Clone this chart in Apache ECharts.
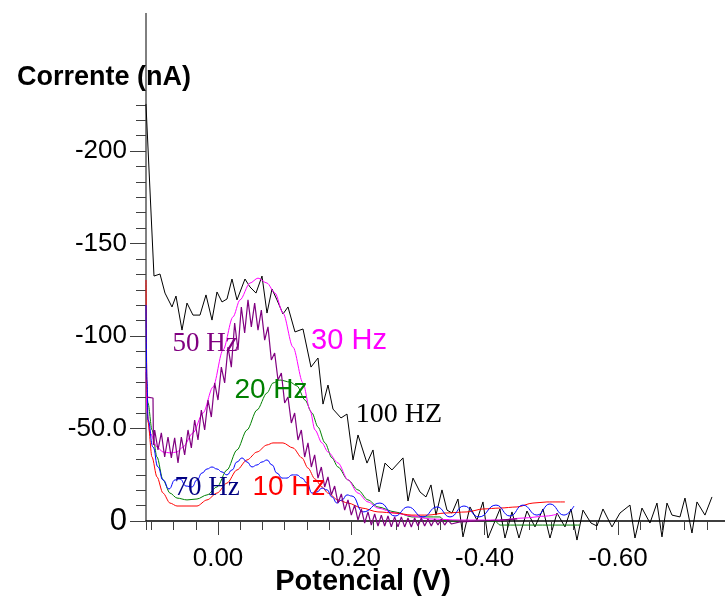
<!DOCTYPE html>
<html>
<head>
<meta charset="utf-8">
<script src="https://cdn.jsdelivr.net/npm/echarts@6/dist/echarts.min.js"></script>
<style>
html, body { margin: 0; padding: 0; background: #fff; }
#chart { width: 725px; height: 599px; }
</style>
</head>
<body>
<div id="chart"></div>
<script>
// potencial (V) e corrente (nA)
const hz100V = [0.108, 0.108, 0.096, 0.087, 0.0795, 0.069, 0.063, 0.054, 0.0465, 0.0375, 0.027, 0.018, 0.009, 0.0015, -0.006, -0.0135, -0.021, -0.0285, -0.0405, -0.048, -0.057, -0.066, -0.0735, -0.081, -0.0885, -0.0975, -0.105, -0.1155, -0.1275, -0.1395, -0.150, -0.1575, -0.165, -0.1725, -0.1845, -0.1935, -0.2025, -0.210, -0.2235, -0.2325, -0.2415, -0.2505, -0.261, -0.2775, -0.285, -0.2925, -0.303, -0.312, -0.3195, -0.327, -0.336, -0.3435, -0.351, -0.360, -0.3675, -0.378, -0.3885, -0.3975, -0.405, -0.423, -0.4305, -0.441, -0.4515, -0.4635, -0.4755, -0.4875, -0.498, -0.5085, -0.5205, -0.5295, -0.5385, -0.5475, -0.5595, -0.5685, -0.5775, -0.591, -0.603, -0.618, -0.6255, -0.636, -0.648, -0.6585, -0.666, -0.6735, -0.681, -0.693, -0.7005, -0.711, -0.7185, -0.7305, -0.741];
const hz100I = [-274.6, -224.8, -132.4, -133.5, -123.2, -115.7, -121.6, -103.2, -117.8, -111.3, -111.3, -122.2, -108.6, -123.8, -118.4, -120.0, -130.8, -119.5, -130.8, -126.5, -123.2, -132.4, -112.4, -125.4, -119.5, -111.9, -115.7, -102.2, -103.8, -83.2, -88.1, -63.2, -73.5, -60.5, -55.7, -57.8, -33.0, -46.5, -31.3, -38.4, -15.7, -31.3, -27.6, -34.1, -10.8, -23.2, -15.7, -13.0, -19.5, -3.2, -16.8, -5.9, -4.3, -11.9, 8.6, -7.6, -0.5, -10.3, 9.2, -6.5, 9.2, -4.9, 9.2, -5.4, 3.2, -6.5, 9.2, -4.3, 3.2, -6.5, 10.3, -5.9, 1.1, 2.7, -6.5, 3.2, -4.3, -8.6, 9.2, -7.0, 1.1, -9.7, 8.6, -9.7, -3.2, -2.2, -12.4, 6.5, -10.3, -3.2, -13.0];

const hz50V = [0.1065, 0.0975, 0.0968,
  0.095, 0.09, 0.085, 0.08, 0.075, 0.07, 0.065, 0.06, 0.055, 0.05,
  0.045, 0.04, 0.035, 0.03, 0.025, 0.02, 0.015, 0.01, 0.005, 0,
  -0.005, -0.01, -0.015, -0.02, -0.025, -0.03, -0.035, -0.04, -0.045, -0.05,
  -0.055, -0.06, -0.065, -0.07, -0.075, -0.08, -0.085, -0.09, -0.095, -0.1,
  -0.105, -0.11, -0.115, -0.12, -0.125, -0.13, -0.135, -0.14, -0.145, -0.15,
  -0.155, -0.16, -0.165, -0.17, -0.175, -0.18, -0.185, -0.19, -0.195, -0.2,
  -0.205, -0.21, -0.215, -0.22, -0.225, -0.23, -0.235, -0.24, -0.245, -0.25,
  -0.255, -0.26, -0.265, -0.27, -0.275, -0.28, -0.285, -0.29, -0.295, -0.3,
  -0.305, -0.31, -0.315, -0.32, -0.325, -0.33, -0.335, -0.34, -0.345, -0.35,
  -0.363, -0.393, -0.423, -0.449];
const hz50I = [-67.0, -66.5, -41.1,
  -49.2, -38.4, -47.6, -34.6, -45.4, -34.1, -44.9, -31.4, -45.4, -35.7,
  -49.2, -39.5, -54.6, -43.8, -60.0, -49.2, -65.4, -56.2, -74.6, -65.4,
  -83.2, -74.6, -94.0, -83.2, -107.0, -92.4, -115.7, -101.6, -119.5, -104.9,
  -117.8, -103.2, -114.0, -97.8, -104.9, -87.0, -90.8, -76.2, -80.0, -63.8,
  -67.0, -53.0, -58.4, -43.8, -49.2, -34.6, -42.2, -29.2, -35.7, -23.2,
  -29.2, -18.4, -23.8, -14.1, -18.9, -9.7, -14.6, -5.9, -11.4, -3.2,
  -8.6, -0.5, -6.5, 1.1, -4.9, 2.2, -3.8, 2.7, -3.2, 2.7,
  -2.7, 3.2, -2.2, 3.2, -2.2, 3.2, -1.6, 3.2, -1.6, 2.7,
  -1.6, 2.7, -1.1, 2.7, -1.1, 2.2, -1.1, 2.2, -0.5, 1.6,
  0.5, 0, -0.5, -1.1];

const hz30V = [0.108, 0.1065, 0.102, 0.0915, 0.0825, 0.072, 0.0615, 0.0525, 0.0375, 0.0225, 0.0075, -0.0075, -0.0225, -0.033, -0.048, -0.060, -0.0735, -0.0855, -0.0975, -0.1125, -0.1275, -0.138, -0.1455, -0.156, -0.165, -0.180, -0.195, -0.210, -0.225, -0.240, -0.2655, -0.291, -0.318, -0.363, -0.423, -0.4575, -0.4935, -0.510];
const hz30I = [-81.6, -58.4, -47.6, -40.0, -37.3, -36.8, -37.3, -40.0, -47.6, -58.4, -72.4, -92.4, -110.3, -119.5, -128.6, -131.3, -128.6, -123.2, -112.4, -94.0, -74.6, -60.0, -49.2, -42.2, -37.3, -31.4, -22.2, -15.1, -10.3, -7.0, -4.3, -2.7, -1.1, -0.5, -0.5, -1.6, -2.7, -3.8];

const hz20V = [0.108, 0.105, 0.099, 0.0915, 0.0825, 0.072, 0.0615, 0.0465, 0.0315, 0.0165, 0.0015, -0.0135, -0.0285, -0.0435, -0.0585, -0.0735, -0.0825, -0.093, -0.108, -0.1185, -0.1305, -0.141, -0.150, -0.1605, -0.171, -0.180, -0.195, -0.210, -0.225, -0.240, -0.2655, -0.291, -0.333, -0.3405, -0.4155, -0.423, -0.543];
const hz20I = [-80.5, -63.8, -49.2, -34.6, -22.2, -15.1, -12.4, -11.4, -11.9, -14.1, -18.4, -27.6, -38.4, -49.2, -60.0, -69.2, -74.6, -76.2, -75.1, -73.0, -65.4, -58.4, -50.8, -42.2, -34.1, -29.2, -22.2, -16.8, -11.4, -7.6, -4.9, -2.2, -2.2, 0, 0, 2.2, 2.2];

const hz10V = [0.108, 0.1065, 0.105, 0.099, 0.0915, 0.0825, 0.072, 0.0615, 0.0465, 0.0315, 0.0165, 0.0015, -0.0135, -0.0285, -0.0435, -0.0585, -0.0735, -0.0825, -0.0975, -0.1125, -0.126, -0.135, -0.1455, -0.156, -0.165, -0.180, -0.195, -0.216, -0.240, -0.2655, -0.291, -0.315, -0.3405, -0.3735, -0.3975, -0.423, -0.4485, -0.4725, -0.4935, -0.5205];
const hz10I = [-130.3, -70.8, -53.5, -34.6, -23.8, -15.1, -9.7, -8.1, -8.1, -8.1, -11.4, -15.1, -20.5, -27.6, -33.0, -37.3, -41.1, -42.2, -42.2, -39.5, -34.1, -28.6, -22.7, -18.4, -15.1, -11.4, -9.7, -7.0, -4.9, -4.3, -3.2, -3.2, -4.3, -4.9, -6.5, -7.0, -7.6, -9.7, -10.3, -10.3];

const hz70V = [0.108, 0.1065, 0.105, 0.0975, 0.090, 0.0825, 0.0735, 0.0645, 0.057, 0.048, 0.039, 0.0315, 0.024, 0.0165, 0.009, 0.0015, -0.006, -0.0135, -0.021, -0.0285, -0.036, -0.0435, -0.051, -0.0585, -0.066, -0.0735, -0.081, -0.0885, -0.096, -0.1035, -0.111, -0.1185, -0.126, -0.1335, -0.141, -0.1485, -0.156, -0.1635, -0.171, -0.1785, -0.186, -0.1935, -0.201, -0.2175, -0.243, -0.2655, -0.285, -0.3075, -0.3285, -0.348, -0.369, -0.3915, -0.417, -0.438, -0.4575, -0.4785, -0.498, -0.519, -0.534];
const hz70I = [-116.8, -76.2, -54.6, -40.0, -29.2, -22.2, -17.3, -22.2, -22.7, -18.9, -18.4, -22.2, -25.9, -28.1, -29.2, -28.1, -26.5, -24.9, -27.6, -31.9, -34.1, -31.9, -29.2, -30.3, -31.9, -33.0, -30.3, -25.9, -23.2, -23.2, -24.9, -24.9, -23.2, -20.5, -15.1, -15.7, -17.8, -16.8, -13.0, -9.7, -11.4, -14.1, -13.5, -4.9, -9.7, -2.7, -7.6, -2.2, -7.6, -2.2, -8.1, -2.2, -8.6, -2.7, -8.6, -3.2, -9.2, -3.2, -8.1];

// eixos
const xMin = -0.8, xMax = 0.108, xStep = 0.2;
const yMin = -225, yMax = 0, yStep = 50;

const sans = '"Liberation Sans", Arial, sans-serif';
const serif = '"Liberation Serif", "Times New Roman", serif';

const chart = echarts.init(document.getElementById('chart'));

function line(v, i, color, width, smooth) {
  return {
    type: 'line',
    data: v.map((x, k) => [x, i[k]]),
    symbol: 'none',
    clip: false,
    smooth: smooth,
    smoothMonotone: smooth ? 'x' : undefined,
    lineStyle: { color: color, width: width },
    itemStyle: { color: color },
    silent: true
  };
}

function label(text, x, y, color, font) {
  return {
    type: 'text', x: x, y: y, z: 100,
    style: { text: text, fill: color, font: font, align: 'center', verticalAlign: 'middle' }
  };
}

const tickColor = '#404040';

const option = {
  animation: false,
  grid: { left: 146, top: 104.75, width: 605.3, height: 416.25, outerBoundsMode: 'none' },
  xAxis: [
    {
      type: 'value', position: 'bottom', inverse: true,
      min: xMin, max: xMax, interval: xStep,
      axisLine: { onZero: false, lineStyle: { color: '#000', width: 1.5 } },
      axisTick: { length: 14, lineStyle: { color: tickColor, width: 1 } },
      splitLine: { show: false },
      axisLabel: {
        margin: 25, color: '#000', fontSize: 26, fontFamily: sans,
        showMinLabel: false, showMaxLabel: false,
        formatter: v => Math.abs(v) < 1e-9 ? '0.00' : v.toFixed(2)
      }
    },
    {
      // marcas menores: 1 unidade = 1/30 V
      type: 'value', position: 'bottom', inverse: true,
      min: -24, max: 3.24, interval: 1,
      axisLine: { show: false, onZero: false },
      axisTick: { length: 9, lineStyle: { color: tickColor, width: 1 } },
      axisLabel: { show: false },
      splitLine: { show: false }
    }
  ],
  yAxis: [
    {
      type: 'value', position: 'left', inverse: true,
      min: yMin, max: yMax, splitNumber: 5, minInterval: yStep, maxInterval: yStep,
      axisLine: { show: true, onZero: false, lineStyle: { color: '#808080', width: 2 } },
      axisTick: { length: 16, lineStyle: { color: tickColor, width: 1 } },
      splitLine: { show: false },
      axisLabel: {
        margin: 19, color: '#000', fontSize: 26, fontFamily: sans,
        showMinLabel: false,
        formatter: v => v === 0 ? '{z|0}' : (v === -50 ? '-50.0' : String(v)),
        rich: { z: { fontSize: 31, fontFamily: sans, color: '#000' } }
      }
    },
    {
      // marcas menores: 1 unidade = 50/6 nA
      type: 'value', position: 'left', inverse: true,
      min: -27, max: 0, interval: 1,
      axisLine: { show: false, onZero: false },
      axisTick: { length: 10, lineStyle: { color: tickColor, width: 1 } },
      axisLabel: { show: false },
      splitLine: { show: false }
    }
  ],
  series: [
    line(hz100V, hz100I, '#000000', 1, false),
    line(hz20V, hz20I, '#008000', 1, 0.3),
    line(hz30V, hz30I, '#ff00ff', 1, 0.3),
    line(hz10V, hz10I, '#ff0000', 1, 0.3),
    line(hz70V, hz70I, '#0000ff', 1, 0.5),
    line(hz50V, hz50I, '#800080', 1.2, false)
  ],
  graphic: [
    label('Corrente (nA)', 104, 78, '#000', 'bold 27px ' + sans),
    label('Potencial (V)', 363, 582, '#000', 'bold 29px ' + sans),
    label('50 Hz', 205, 344, '#800080', '27px ' + serif),
    label('30 Hz', 349, 341, '#ff00ff', '29px ' + sans),
    label('20 Hz', 271, 390, '#008000', '28px ' + sans),
    label('100 HZ', 399, 415, '#000000', '28px ' + serif),
    label('70 Hz', 207, 488, '#000080', '27px ' + serif),
    label('10 Hz', 289, 487, '#ff0000', '28px ' + sans)
  ]
};

chart.setOption(option);
</script>
</body>
</html>
